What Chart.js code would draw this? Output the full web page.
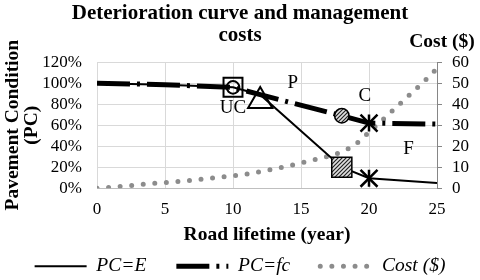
<!DOCTYPE html>
<html><head><meta charset="utf-8">
<script src="https://cdn.jsdelivr.net/npm/chart.js@4/dist/chart.umd.min.js"></script>
<style>html,body{margin:0;padding:0;background:#fff;} #wrap{width:480px;height:280px;position:relative;}</style>
</head><body><div id="wrap"><canvas id="c"></canvas></div>
<script>
const titleLines = ['Deterioration curve and management', 'costs'];
const xTitle = 'Road lifetime (year)';
const yTitle = ['Pavement Condition', '(PC)'];
const y2Title = 'Cost ($)';
const xTicks = [0, 5, 10, 15, 20, 25];
const yTicks = [0, 20, 40, 60, 80, 100, 120];
const y2Ticks = [0, 10, 20, 30, 40, 50, 60];

const seriesNames = ['PC=E', 'PC=fc', 'Cost ($)'];
const pcEYears = [0, 5, 10, 12, 18, 20, 25];
const pcEValues = [100, 98.5, 96, 89, 20, 9.5, 5];
const pcFcYears = [0, 5, 10, 12, 18, 20, 25];
const pcFcValues = [100, 98.5, 96, 89, 69, 62, 61];
const costYears = [0,1,2,3,4,5,6,7,8,9,10,11,12,13,14,15,16,17,18,19,20,21,22,23,24,25];
const costValues = [0,0.4,1.0,1.6,2.2,2.7,3.2,3.8,4.5,5.2,5.9,6.8,7.9,9.1,10.5,12.0,13.6,15.2,17.4,20.9,26.6,32.5,38.5,44.5,50.5,57];

const noteLabels = ['UC', 'P', 'C', 'F'];
const noteYears = [10, 14.4, 19.7, 22.9];
const noteValues = [76, 100, 88, 37.5];
const ucPoint = [10, 96];
const pPoint = [12, 83];
const cPoint = [18, 69];
const fPoint = [18, 20];
const starYears = [20, 20];
const starValues = [62, 9.5];

const SERIF = "'Liberation Serif', 'Times New Roman', serif";
Chart.defaults.font.family = SERIF;
Chart.defaults.color = '#000';

function hatch(bg) {
  const c = document.createElement('canvas');
  c.width = 4; c.height = 4;
  const g = c.getContext('2d');
  g.fillStyle = bg; g.fillRect(0, 0, 4, 4);
  g.strokeStyle = '#222'; g.lineWidth = 1.2;
  g.beginPath();
  g.moveTo(-1, 5); g.lineTo(5, -1);
  g.moveTo(-3, 3); g.lineTo(3, -3);
  g.moveTo(1, 7); g.lineTo(7, 1);
  g.stroke();
  return g.createPattern(c, 'repeat');
}
const hatchFill = hatch('#e0e0e0');

const pts = (xs, ys) => xs.map((v, i) => ({x: v, y: ys[i]}));
const marker = (p, style, r, bg, extra) => Object.assign({
  label: '_m', data: [{x: p[0], y: p[1]}], showLine: false, yAxisID: 'y',
  pointStyle: style, pointRadius: r, pointHoverRadius: r, pointBorderColor: '#000',
  pointBackgroundColor: bg, pointBorderWidth: 2, order: 0
}, extra || {});

const notesPlugin = {
  id: 'notes',
  afterDatasetsDraw(chart) {
    const {ctx, scales: {x, y, y2}, chartArea} = chart;
    ctx.save();
    ctx.fillStyle = '#000';
    ctx.font = '19px ' + SERIF;
    ctx.textAlign = 'center';
    ctx.textBaseline = 'middle';
    noteLabels.forEach((t, i) => ctx.fillText(t, x.getPixelForValue(noteYears[i]), y.getPixelForValue(noteValues[i])));
    ctx.font = 'bold 19.5px ' + SERIF;
    ctx.textBaseline = 'alphabetic';
    ctx.fillText(y2Title, y2.left + 5, chartArea.top - 15);
    ctx.restore();
  }
};

new Chart(document.getElementById('c'), {
  type: 'line',
  data: {
    datasets: [
      { label: seriesNames[0], data: pts(pcEYears, pcEValues), yAxisID: 'y', borderColor: '#000', backgroundColor: '#000',
        borderWidth: 2, pointRadius: 0, tension: 0, order: 3 },
      { label: seriesNames[1], data: pts(pcFcYears, pcFcValues), yAxisID: 'y', borderColor: '#000', backgroundColor: '#000',
        borderWidth: 5, borderDash: [33, 7, 3, 7], borderCapStyle: 'butt', pointRadius: 0, tension: 0, order: 2 },
      { label: seriesNames[2], data: pts(costYears, costValues), yAxisID: 'y2', borderColor: '#8c8c8c', backgroundColor: '#8c8c8c',
        borderWidth: 5, borderDash: [0, 11.6], borderCapStyle: 'round', pointRadius: 0, cubicInterpolationMode: 'monotone', order: 4 },
      marker(ucPoint, 'rect', 13.4, 'rgba(0,0,0,0)'),
      marker(ucPoint, 'circle', 6.3, 'rgba(0,0,0,0)'),
      marker(pPoint, 'triangle', 14, 'rgba(0,0,0,0)'),
      marker(cPoint, 'circle', 7.2, hatchFill, {pointBorderWidth: 1.5}),
      marker(fPoint, 'rect', 14.2, hatchFill, {pointBorderWidth: 1.5}),
      { label: '_m', data: pts(starYears, starValues), showLine: false, yAxisID: 'y', pointStyle: 'crossRot',
        pointRadius: 12, pointHoverRadius: 12, pointBorderColor: '#000', pointBorderWidth: 2.5, order: 0 },
      { label: '_m', data: pts(starYears, starValues), showLine: false, yAxisID: 'y', pointStyle: 'line', pointRotation: 90,
        pointRadius: 8.5, pointHoverRadius: 8.5, pointBorderColor: '#000', pointBorderWidth: 2.5, order: 0 }
    ]
  },
  options: {
    responsive: true, maintainAspectRatio: false, animation: false,
    events: [],
    layout: { padding: { left: 0, right: 0, top: 0, bottom: -6 } },
    plugins: {
      title: { display: true, text: titleLines, color: '#000', font: { size: 21, weight: 'bold', lineHeight: 1.05 },
        padding: { top: 3, bottom: 15 } },
      legend: { position: 'bottom',
        labels: {
          usePointStyle: true, pointStyle: 'line', pointStyleWidth: 52,
          font: { size: 19.5, style: 'italic' }, padding: 30, color: '#000',
          generateLabels: chart => [0, 1, 2].map(i => {
            const ds = chart.data.datasets[i];
            return { text: ds.label, fillStyle: ds.borderColor, strokeStyle: ds.borderColor, lineWidth: ds.borderWidth,
              lineDash: ds.borderDash || [], lineCap: ds.borderCapStyle || 'butt', pointStyle: 'line',
              hidden: false, datasetIndex: i, fontColor: '#000' };
          })
        } },
      tooltip: { enabled: false }
    },
    scales: {
      x: { type: 'linear', min: 0, max: 25,
        afterBuildTicks: s => { s.ticks = xTicks.map(v => ({value: v})); },
        afterFit: s => { s.height = 38.25; },
        ticks: { font: { size: 17 }, padding: 11, color: '#000', autoSkip: false, maxRotation: 0 },
        grid: { color: '#d9d9d9', drawTicks: false },
        border: { display: true, color: '#bfbfbf' },
        title: { display: true, text: xTitle, font: { size: 19.5, weight: 'bold' }, padding: { top: 0, bottom: -20.5 } } },
      y: { position: 'left', min: 0, max: 120,
        afterBuildTicks: s => { s.ticks = yTicks.map(v => ({value: v})); },
        afterFit: s => { s.width = 97; },
        ticks: { font: { size: 17 }, padding: 15, color: '#000', autoSkip: false, callback: v => v + '%' },
        grid: { color: '#d9d9d9', drawTicks: false },
        border: { display: false },
        title: { display: true, text: yTitle, font: { size: 19.5, weight: 'bold', lineHeight: 1 }, padding: { top: 3, bottom: 0 } } },
      y2: { position: 'right', min: 0, max: 60,
        afterBuildTicks: s => { s.ticks = y2Ticks.map(v => ({value: v})); },
        afterFit: s => { s.width = 43; },
        ticks: { font: { size: 17 }, padding: 10, color: '#000', autoSkip: false },
        grid: { drawOnChartArea: false, drawTicks: true, tickLength: 5, color: '#868686' },
        border: { display: true, color: '#868686' } }
    }
  },
  plugins: [notesPlugin]
});
</script>
</body></html>
